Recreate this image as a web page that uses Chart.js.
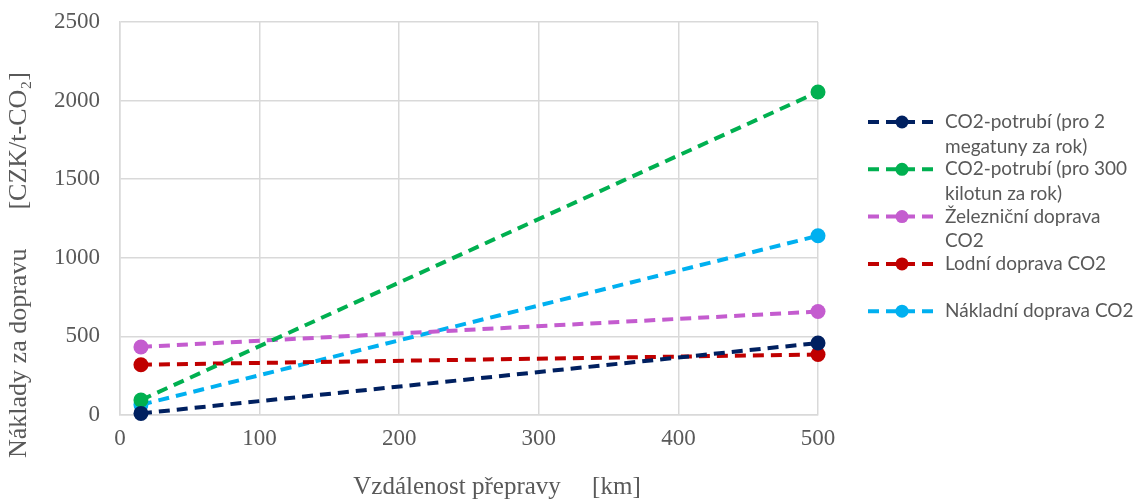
<!DOCTYPE html>
<html>
<head>
<meta charset="utf-8">
<script src="https://cdn.jsdelivr.net/npm/chart.js@4"></script>
<style>
  html, body { margin: 0; padding: 0; background: #fff; }
  #wrap { width: 1139px; height: 500px; }
</style>
</head>
<body>
<div id="wrap"><canvas id="costChart" width="1139" height="500"></canvas></div>
<script>
// distances [km]
const distances = [15, 500];

// costs [CZK/t-CO2]
const pipe2Mt = [10, 458];
const pipe300kt = [95, 2055];
const rail = [433, 658];
const ship = [320, 385];
const truck = [65, 1140];

const seriesNames = [
    ['CO2-potrubí (pro 2', 'megatuny za rok)'],
    ['CO2-potrubí (pro 300', 'kilotun za rok)'],
    ['Železniční doprava', 'CO2'],
    ['Lodní doprava CO2'],
    ['Nákladní doprava CO2']
];
const seriesValues = [pipe2Mt, pipe300kt, rail, ship, truck];
const seriesColors = ['#002060', '#00b050', '#c45ccf', '#c00000', '#00b0f0'];

const xTicks = [0, 100, 200, 300, 400, 500];
const yTicks = [0, 500, 1000, 1500, 2000, 2500];

const serif = '"Liberation Serif", "Times New Roman", serif';
const grey = '#595959';
const gridGrey = '#d9d9d9';

// 🔥 legend + axis titles drawn by hand (wrapped text, subscript)
const sideText = {
    id: 'sideText',
    afterDraw(chart) {
        const c = chart.ctx;
        c.save();
        // legend
        c.font = '19px Lato, "Open Sans", sans-serif';
        c.textBaseline = 'middle';
        c.textAlign = 'left';
        let y = 122;
        seriesNames.forEach((lines, i) => {
            const col = seriesColors[i];
            c.strokeStyle = col;
            c.lineWidth = 4;
            c.setLineDash([11, 7]);
            c.beginPath();
            c.moveTo(868, y);
            c.lineTo(936, y);
            c.stroke();
            c.setLineDash([]);
            c.fillStyle = col;
            c.beginPath();
            c.arc(902, y, 6.5, 0, Math.PI * 2);
            c.fill();
            c.fillStyle = grey;
            lines.forEach((t, j) => c.fillText(t, 945, y + j * 24.5));
            y += 47.3;
        });

        // x title
        c.font = '25px ' + serif;
        c.textAlign = 'center';
        c.fillText('Vzdálenost přepravy     [km]', 497, 487);

        // y title
        c.font = '26px ' + serif;
        c.translate(19, 265);
        c.rotate(-Math.PI / 2);
        c.fillText('Náklady za dopravu      [CZK/t-CO₂]', 0, 0);
        c.restore();
    }
};

const ctx = document.getElementById('costChart').getContext('2d');

const costChart = new Chart(ctx, {
    type: 'line',
    data: {
        datasets: seriesValues.map((vals, i) => ({
            label: seriesNames[i].join(' '),
            data: distances.map((d, k) => ({ x: d, y: vals[k] })),
            borderColor: seriesColors[i],
            backgroundColor: seriesColors[i],
            borderWidth: 4,
            borderDash: [11, 7],
            pointRadius: 7.5,
            pointHoverRadius: 7.5,
            pointBorderWidth: 0,
            clip: false,
            fill: false
        }))
    },
    options: {
        responsive: false,
        animation: false,
        layout: { padding: { top: 22, right: 321, left: 0, bottom: 0 } },
        plugins: {
            legend: { display: false },
            tooltip: { enabled: false }
        },
        scales: {
            x: {
                type: 'linear',
                min: 0,
                max: 500,
                afterBuildTicks: axis => { axis.ticks = xTicks.map(v => ({ value: v })); },
                afterFit: axis => { axis.height = 85; axis.paddingLeft = 0; axis.paddingRight = 0; },
                grid: { color: gridGrey, lineWidth: 1.5, drawTicks: false },
                border: { color: gridGrey, width: 1.5 },
                ticks: { color: grey, font: { family: serif, size: 23 }, padding: 10, maxRotation: 0, callback: v => String(v) }
            },
            y: {
                min: 0,
                max: 2500,
                afterBuildTicks: axis => { axis.ticks = yTicks.map(v => ({ value: v })); },
                afterFit: axis => { axis.width = 120; axis.paddingTop = 0; axis.paddingBottom = 0; },
                grid: { color: gridGrey, lineWidth: 1.5, drawTicks: false },
                border: { color: gridGrey, width: 1.5 },
                ticks: { color: grey, font: { family: serif, size: 23 }, padding: 20, callback: v => String(v) }
            }
        }
    },
    plugins: [sideText]
});
</script>
</body>
</html>
